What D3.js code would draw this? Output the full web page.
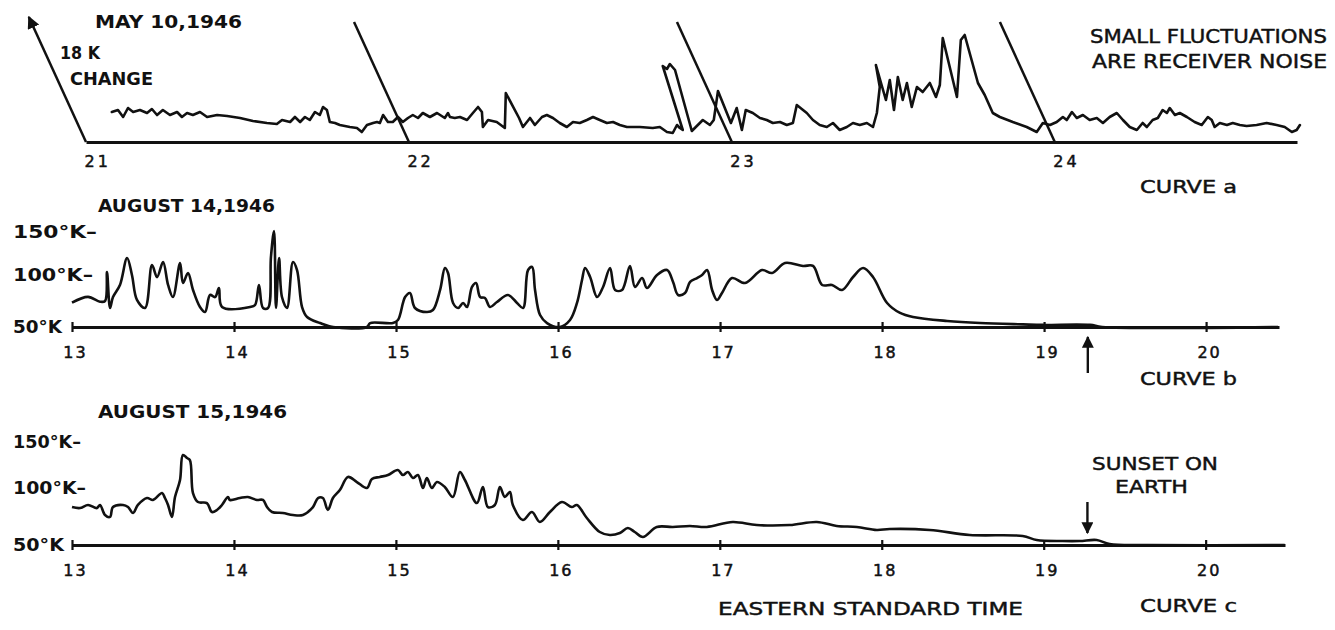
<!DOCTYPE html>
<html><head><meta charset="utf-8">
<script src="https://cdn.jsdelivr.net/npm/d3@7"></script>
<style>
body{margin:0;background:#fff}
text{font-family:"DejaVu Sans",sans-serif;fill:#111}
</style></head>
<body><svg id="chart" width="1335" height="630"></svg>
<script>
// ---------------- DATA ----------------
const hoursA = [21, 22, 23, 24];
const hoursBC = [13, 14, 15, 16, 17, 18, 19, 20];
const kTicks = [150, 100, 50];
const kLabels = ["150°K–", "100°K–", "50°K"];
const calibK = 18;           // "18 K CHANGE" calibration stroke
const sunsetHour = 19.27;

// Curve a : May 10, 1946  [hour (EST), K change]
const curveA = [[21.080,4.5],[21.099,4.8],[21.115,3.75],[21.130,5.1],[21.146,4.5],[21.167,4.8],[21.189,4.35],[21.204,4.95],[21.220,4.05],[21.238,4.8],[21.260,4.05],[21.282,4.5],[21.297,3.75],[21.313,4.35],[21.331,4.05],[21.353,4.5],[21.375,3.75],[21.406,4.05],[21.437,3.9],[21.477,3.6],[21.517,3.15],[21.560,2.85],[21.591,2.7],[21.607,3.3],[21.632,3.0],[21.647,3.75],[21.663,3.0],[21.678,3.75],[21.693,3.3],[21.709,4.5],[21.724,4.05],[21.734,5.25],[21.746,4.8],[21.755,3.0],[21.771,2.85],[21.786,2.55],[21.817,2.25],[21.839,2.1],[21.854,1.5],[21.870,2.55],[21.889,2.85],[21.901,3.0],[21.910,2.85],[21.920,4.05],[21.935,3.0],[21.950,3.0],[21.966,3.75],[21.981,3.0],[21.997,3.6],[22.012,4.05],[22.028,3.6],[22.043,4.35],[22.065,3.75],[22.087,4.35],[22.111,3.6],[22.121,4.35],[22.127,3.75],[22.142,3.6],[22.158,3.75],[22.180,3.3],[22.198,4.35],[22.214,5.25],[22.226,4.5],[22.229,2.25],[22.245,3.3],[22.272,3.0],[22.297,2.1],[22.300,7.35],[22.341,3.6],[22.353,2.25],[22.375,3.6],[22.390,2.55],[22.412,3.75],[22.427,4.05],[22.446,3.6],[22.467,2.85],[22.489,2.25],[22.508,3.0],[22.529,2.85],[22.551,3.3],[22.570,3.75],[22.591,3.3],[22.613,2.85],[22.632,3.0],[22.653,2.55],[22.675,2.25],[22.715,2.25],[22.755,2.1],[22.777,2.25],[22.799,1.5],[22.817,1.35],[22.830,2.55],[22.839,2.1],[22.848,1.8],[22.786,11.4],[22.799,10.95],[22.808,11.7],[22.824,10.8],[22.876,1.65],[22.910,3.3],[22.932,2.55],[22.944,3.3],[22.957,7.65],[22.997,2.85],[23.015,5.1],[23.031,1.8],[23.043,4.8],[23.065,4.35],[23.087,3.6],[23.108,3.3],[23.127,2.85],[23.149,3.0],[23.170,2.55],[23.189,2.85],[23.201,5.55],[23.232,4.35],[23.251,3.3],[23.272,2.55],[23.294,2.25],[23.313,2.85],[23.334,1.8],[23.356,2.25],[23.375,2.85],[23.396,2.55],[23.418,2.85],[23.437,2.25],[23.449,4.35],[23.458,8.25],[23.446,11.55],[23.477,6.3],[23.489,9.3],[23.502,4.8],[23.514,9.75],[23.529,6.3],[23.542,8.85],[23.557,5.25],[23.573,8.25],[23.591,7.5],[23.613,8.85],[23.632,6.75],[23.644,8.55],[23.653,15.6],[23.697,6.75],[23.709,15.3],[23.721,16.05],[23.762,8.85],[23.783,7.05],[23.808,4.35],[23.830,3.75],[23.870,3.0],[23.913,2.25],[23.944,1.5],[23.963,2.85],[23.985,2.55],[24.006,3.0],[24.025,3.75],[24.037,3.3],[24.053,4.5],[24.068,3.6],[24.087,4.05],[24.108,3.3],[24.130,3.6],[24.149,2.85],[24.170,3.75],[24.192,4.35],[24.211,3.3],[24.232,2.25],[24.254,1.8],[24.272,2.85],[24.285,2.25],[24.303,3.3],[24.319,3.6],[24.334,4.8],[24.347,4.35],[24.356,5.1],[24.372,4.05],[24.387,4.35],[24.409,3.75],[24.433,3.0],[24.455,2.55],[24.474,3.75],[24.486,3.3],[24.495,2.25],[24.511,2.85],[24.533,2.55],[24.551,2.85],[24.573,2.55],[24.594,2.4],[24.625,2.55],[24.656,2.85],[24.687,2.55],[24.712,2.25],[24.734,1.5],[24.749,1.8],[24.759,2.55]];

// Curve b : August 14, 1946  [hour (EST), antenna temperature K]
const curveB = [[13.000,73.4],[13.099,79],[13.173,74.3],[13.204,75],[13.216,103.5],[13.235,68.3],[13.253,78.8],[13.296,90.4],[13.340,119.8],[13.370,100],[13.401,76],[13.451,68.3],[13.494,111.6],[13.525,98],[13.562,115.1],[13.593,90.4],[13.623,78.8],[13.667,114],[13.685,92.3],[13.716,102.3],[13.747,85.6],[13.790,69.2],[13.821,64.4],[13.852,80.8],[13.883,78.8],[13.907,87.5],[13.926,69.2],[14.099,69.2],[14.130,71.2],[14.154,90.4],[14.179,68.3],[14.210,68.3],[14.228,121],[14.247,151],[14.259,68.3],[14.278,119.8],[14.296,78.8],[14.327,68.3],[14.364,115.1],[14.389,105.8],[14.420,69.2],[14.451,59.6],[14.531,53.8],[14.611,50],[14.821,50],[14.840,53.8],[14.981,53.8],[15.012,56.7],[15.056,78.8],[15.086,82.7],[15.117,68.3],[15.191,64.4],[15.228,66.3],[15.272,85.6],[15.302,108.1],[15.321,102.3],[15.352,73.1],[15.383,68.3],[15.414,73.1],[15.438,69.2],[15.469,88.5],[15.494,92.3],[15.519,78.8],[15.549,77.9],[15.580,69.2],[15.623,74],[15.691,80.8],[15.747,73.1],[15.784,68.3],[15.815,105.8],[15.840,109.3],[15.858,85.6],[15.889,61.5],[15.932,53.8],[16.012,50],[16.074,56.7],[16.117,73.1],[16.148,95.2],[16.167,108.1],[16.198,98.1],[16.241,78.8],[16.278,88.5],[16.321,108.1],[16.352,85.6],[16.395,85.6],[16.444,110.5],[16.475,88.5],[16.519,97.1],[16.549,87.5],[16.611,100],[16.673,105.8],[16.710,93.3],[16.741,80.8],[16.784,82.7],[16.815,93.3],[16.858,97.1],[16.889,100],[16.920,105.8],[16.951,85.6],[16.981,76],[17.012,82.7],[17.074,97.1],[17.154,92.3],[17.259,105.8],[17.321,102.3],[17.401,114],[17.512,110.5],[17.574,110.5],[17.630,90.4],[17.691,90.4],[17.753,85.6],[17.821,98.1],[17.883,108.1],[17.944,98.1],[18.031,73.1],[18.111,63.5],[18.191,59.6],[18.401,55.8],[18.605,53.8],[18.870,52.5],[18.994,52],[19.284,52],[19.358,50],[20.444,50]];

// Curve c : August 15, 1946  [hour (EST), antenna temperature K]
const curveC = [[13.000,83.3],[13.049,82.4],[13.099,85.1],[13.154,82.4],[13.173,85.1],[13.204,76.3],[13.235,74.6],[13.253,83.3],[13.315,85.1],[13.346,83.3],[13.377,78.1],[13.407,85.1],[13.463,91.2],[13.500,89.5],[13.556,95.6],[13.574,91.2],[13.593,85.1],[13.617,74.6],[13.636,92.1],[13.667,108.7],[13.685,135.9],[13.710,132.6],[13.728,130.4],[13.747,95.6],[13.778,87.7],[13.833,86.8],[13.864,78.9],[13.895,80.7],[13.926,85.1],[13.963,92.1],[13.975,89.5],[14.037,91.2],[14.086,92.1],[14.142,89.5],[14.179,89.5],[14.204,83.3],[14.235,78.9],[14.302,78.1],[14.364,76.3],[14.426,76.3],[14.488,83.3],[14.519,91.2],[14.549,91.2],[14.580,80.7],[14.611,91.2],[14.654,98.2],[14.704,112],[14.759,106.5],[14.821,100],[14.852,109.8],[14.901,112],[14.951,114.1],[15.012,119.6],[15.043,114.1],[15.074,117.4],[15.105,110.9],[15.136,114.1],[15.167,100],[15.191,110.9],[15.222,100],[15.253,106.5],[15.302,101.1],[15.352,92.1],[15.395,117.4],[15.426,108.7],[15.500,86.8],[15.537,101.1],[15.568,83.3],[15.611,85.1],[15.642,101.1],[15.673,92.1],[15.704,96.5],[15.722,85.1],[15.784,71.9],[15.840,78.9],[15.889,70.2],[15.951,78.9],[16.025,87.7],[16.086,83.3],[16.117,85.1],[16.179,73.7],[16.259,61.4],[16.321,58.8],[16.383,60.5],[16.432,64.9],[16.475,61.4],[16.525,57],[16.611,65.8],[16.710,65.8],[16.815,66.7],[16.920,65.8],[17.080,70.2],[17.228,67.5],[17.432,67.5],[17.599,70.2],[17.722,66.7],[17.846,65.8],[17.969,63.2],[18.049,64],[18.296,63.2],[18.543,58.8],[18.870,57.9],[18.957,54.4],[19.117,53.5],[19.222,53.5],[19.327,54.4],[19.407,50.9],[19.636,50],[20.488,50]];

// ---------------- DRAWING ----------------
const svg = d3.select("#chart");
const INK = "#111";
const FONT = '"DejaVu Sans",sans-serif';
const defs = svg.append("defs");
defs.append("marker").attr("id","head").attr("viewBox","0 0 10 10")
  .attr("refX",9).attr("refY",5).attr("markerWidth",5).attr("markerHeight",5)
  .attr("markerUnits","strokeWidth").attr("orient","auto")
  .append("path").attr("d","M0,0L10,5L0,10Z").attr("fill",INK);

function txt(s, x, y, size, weight, len){
  const t = svg.append("text").attr("x",x).attr("y",y).attr("font-size",size)
    .attr("font-weight",weight).text(s);
  if(weight !== "bold") t.attr("stroke",INK).attr("stroke-width",0.45);
  if(len) t.attr("textLength",len).attr("lengthAdjust","spacingAndGlyphs");
  return t;
}

// ---- Panel a ----
const xA = d3.scaleLinear().domain([21, 24.75]).range([86, 1297]);
const yA = d3.scaleLinear().domain([0, 18]).range([142, 22]);
const slantHours = 0.17 / calibK;   // pen-arc slant per K

const axA = d3.axisBottom(xA).tickValues(hoursA).tickSize(0).tickFormat(d3.format("d"));
const gA = svg.append("g").attr("transform",`translate(0,${yA(0)})`).call(axA);
gA.select(".domain").attr("stroke",INK).attr("stroke-width",2.8);
gA.selectAll(".tick text").attr("y",25).attr("dy",0).attr("text-anchor","start")
  .attr("dx",-2).attr("font-size",16).attr("fill",INK)
  .attr("stroke",INK).attr("stroke-width",0.5)
  .style("font-family",FONT).style("letter-spacing","3px");

// hour marker arcs (slanted calibration strokes)
hoursA.forEach(h=>{
  const top = h === 21 ? calibK + 0.75 : calibK;
  const l = svg.append("line")
    .attr("x1",xA(h)).attr("y1",yA(0))
    .attr("x2",xA(h - slantHours*top)).attr("y2",yA(top))
    .attr("stroke",INK).attr("stroke-width",2.5);
  if(h===21) l.attr("marker-end","url(#head)");
});

svg.append("path").datum(curveA)
  .attr("d", d3.line().x(d=>xA(d[0])).y(d=>yA(d[1])))
  .attr("fill","none").attr("stroke",INK).attr("stroke-width",2.6)
  .attr("stroke-linejoin","round").attr("stroke-linecap","round");

txt("MAY 10,1946", 95, 28, 18, "bold", 147);
txt("18 K", 60, 59, 17, "bold", 40);
txt("CHANGE", 70, 85, 17, "bold", 83);
txt("SMALL FLUCTUATIONS", 1090, 43, 19, "normal", 237);
txt("ARE  RECEIVER NOISE", 1092, 68, 19, "normal", 235);
txt("CURVE  a", 1140, 193, 18, "normal", 97);

// ---- Panels b and c ----
function panel(curve, yScale, xScale, title, titleY, labelLens, curveName, curveY){
  const ax = d3.axisBottom(xScale).tickValues(hoursBC).tickSizeInner(4).tickSizeOuter(0)
    .tickFormat(d3.format("d"));
  const g = svg.append("g").attr("transform",`translate(0,${yScale(50)})`).call(ax);
  g.select(".domain").attr("stroke",INK).attr("stroke-width",2.8);
  g.selectAll(".tick line").attr("y1",-5).attr("y2",5).attr("stroke",INK).attr("stroke-width",2.2);
  g.selectAll(".tick text").attr("y",31).attr("dy",0).attr("dx",3)
    .attr("font-size",16).attr("fill",INK)
    .attr("stroke",INK).attr("stroke-width",0.5)
    .style("font-family",FONT).style("letter-spacing","2px");

  kTicks.forEach((k,i)=>{
    txt(kLabels[i], 13, yScale(k)+6, 17, "bold", labelLens[i]);
  });

  svg.append("path").datum(curve)
    .attr("d", d3.line().x(d=>xScale(d[0])).y(d=>yScale(d[1])).curve(d3.curveCatmullRom.alpha(0.5)))
    .attr("fill","none").attr("stroke",INK).attr("stroke-width",2.6)
    .attr("stroke-linejoin","round");

  txt(title, 98, titleY, 18, "bold", title.includes("14") ? 177 : 189);
  txt(curveName, 1140, curveY, 18, "normal", 97);
}

const xB = d3.scaleLinear().domain([13, 20.45]).range([72, 1279]);
const yB = d3.scaleLinear().domain([50, 100, 150]).range([327, 275, 232]);
panel(curveB, yB, xB, "AUGUST 14,1946", 212, [84, 80, 49], "CURVE  b", 385);

const xC = d3.scaleLinear().domain([13, 20.49]).range([72, 1285]);
const yC = d3.scaleLinear().domain([50, 100, 150]).range([545, 488, 442]);
panel(curveC, yC, xC, "AUGUST 15,1946", 418, [68, 73, 51], "CURVE  c", 612);

// sunset arrows
svg.append("line").attr("x1",xB(sunsetHour)).attr("x2",xB(sunsetHour))
  .attr("y1",yB(50)+46).attr("y2",yB(50)+10)
  .attr("stroke",INK).attr("stroke-width",2.4).attr("marker-end","url(#head)");
svg.append("line").attr("x1",xC(sunsetHour)).attr("x2",xC(sunsetHour))
  .attr("y1",yC(50)-43).attr("y2",yC(50)-12)
  .attr("stroke",INK).attr("stroke-width",2.4).attr("marker-end","url(#head)");

txt("SUNSET ON", 1092, 470, 18, "normal", 126);
txt("EARTH", 1115, 493, 18, "normal", 73);
txt("EASTERN  STANDARD  TIME", 718, 615, 18, "normal", 305);
</script></body></html>
